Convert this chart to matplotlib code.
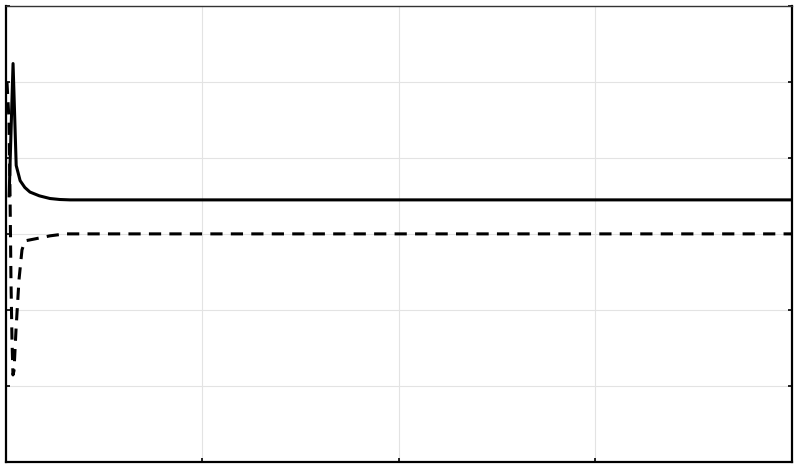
import matplotlib
matplotlib.use("Agg")
import matplotlib.pyplot as plt

# values (x: 0..200, y: 0..6)
solid_x = [0.8, 1.8, 2.6, 3.6, 4.8, 6.1, 8.5, 11.2, 13.7, 16.3, 200]
solid_y = [3.50, 5.24, 3.90, 3.70, 3.61, 3.55, 3.50, 3.465, 3.452, 3.447, 3.447]

dashed_x = [0.25, 0.76, 1.02, 1.27, 1.53, 1.78, 2.04, 2.55, 3.31, 4.07, 4.84,
            7.38, 11.2, 15.0, 200]
dashed_y = [5.0, 4.5, 3.58, 2.395, 1.605, 1.145, 1.2, 1.737, 2.395, 2.789, 2.908,
            2.934, 2.974, 3.0, 3.0]

x_ticks = [0, 50, 100, 150, 200]
y_ticks = [0, 1, 2, 3, 4, 5, 6]


def plot_curves():
    fig = plt.figure(figsize=(7.97, 4.67), dpi=100)
    ax = fig.add_axes([0.0075, 0.0107, 0.986, 0.977])
    ax.plot(solid_x, solid_y, color="black", linewidth=2.2, solid_joinstyle="round")
    ax.plot(dashed_x, dashed_y, color="black", linewidth=2.2, linestyle=(0, (4, 2.7)))
    ax.set_xlim(0, 200)
    ax.set_ylim(0, 6)
    ax.set_xticks(x_ticks)
    ax.set_yticks(y_ticks)
    ax.tick_params(direction="in", length=3, width=1.2, labelbottom=False,
                   labelleft=False, right=True, top=False)
    ax.grid(True, color="#e3e3e3", linewidth=0.8)
    ax.set_axisbelow(True)
    for side in ["left", "bottom", "right"]:
        ax.spines[side].set_linewidth(1.6)
    ax.spines["top"].set_linewidth(1.0)
    ax.spines["top"].set_color("#333333")
    fig.savefig("out.png", dpi=100)


plot_curves()
